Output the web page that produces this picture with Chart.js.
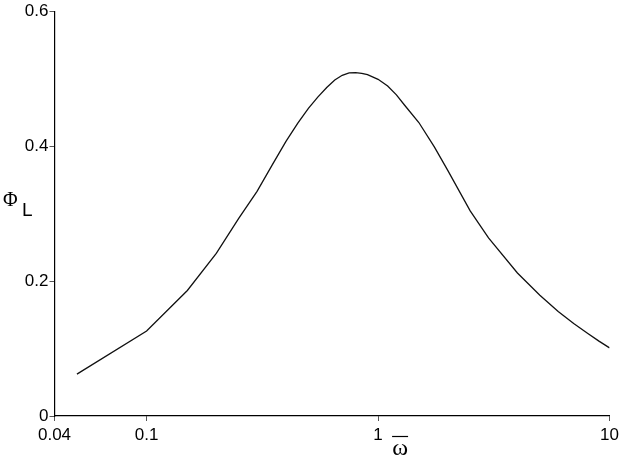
<!DOCTYPE html>
<html>
<head>
<meta charset="utf-8">
<script src="https://cdn.jsdelivr.net/npm/chart.js@4/dist/chart.umd.min.js"></script>
<style>
  html, body { margin: 0; padding: 0; background: #fff; }
  #wrap { width: 623px; height: 461px; }
</style>
</head>
<body>
<div id="wrap"><canvas id="myChart" width="623" height="461"></canvas></div>
<script>
// frequency (omega bar) and Phi_L
var omega = [0.05, 0.1, 0.15, 0.2, 0.25, 0.3, 0.35, 0.4, 0.45, 0.5, 0.55, 0.6, 0.65, 0.7, 0.75, 0.8, 0.85, 0.9, 1,
             1.1, 1.2, 1.3, 1.5, 1.75, 2, 2.5, 3, 4, 5, 6, 7, 8, 9, 10];
var phiL = [0.062, 0.126, 0.186, 0.241, 0.293, 0.333, 0.373, 0.407, 0.434, 0.456, 0.473, 0.487, 0.498, 0.505, 0.5085, 0.509, 0.508, 0.506, 0.499,
            0.489, 0.476, 0.461, 0.435, 0.399, 0.364, 0.304, 0.264, 0.212, 0.179, 0.155, 0.137, 0.123, 0.111, 0.101];
var xTicks = [0.04, 0.1, 1, 10];
var yTicks = [0, 0.2, 0.4, 0.6];

var tickFont = { family: "'Liberation Sans', Arial, sans-serif", size: 17 };

// axis symbols drawn next to the axes
var axisSymbols = {
    id: 'axisSymbols',
    afterDraw: function(chart) {
        var ctx = chart.ctx;
        var xs = chart.scales.x;
        ctx.save();
        ctx.fillStyle = '#000';
        ctx.textBaseline = 'alphabetic';
        ctx.textAlign = 'left';
        ctx.font = "20px 'Liberation Serif', 'DejaVu Serif', serif";
        ctx.fillText('\u03A6', 3, 206);
        ctx.font = "19px 'Liberation Sans', Arial, sans-serif";
        ctx.fillText('L', 22, 216);
        // omega with bar
        var cx = xs.getPixelForValue(1) + 22;
        ctx.font = "24px 'Liberation Serif', 'DejaVu Serif', serif";
        ctx.textAlign = 'center';
        ctx.fillText('\u03C9', cx, 455);
        ctx.strokeStyle = '#000';
        ctx.lineWidth = 1.2;
        ctx.beginPath();
        ctx.moveTo(cx - 8, 436.5);
        ctx.lineTo(cx + 8, 436.5);
        ctx.stroke();
        ctx.restore();
    }
};

var data = omega.map(function(w, i) { return { x: w, y: phiL[i] }; });

var chart = new Chart(document.getElementById('myChart').getContext('2d'), {
    type: 'line',
    data: {
        datasets: [{
            data: data,
            borderColor: '#111',
            borderWidth: 1.3,
            pointRadius: 0,
            tension: 0,
            fill: false
        }]
    },
    options: {
        responsive: false,
        animation: false,
        layout: { padding: { top: 11, right: 12, left: 0, bottom: 0 } },
        plugins: { legend: { display: false }, tooltip: { enabled: false } },
        scales: {
            x: {
                type: 'logarithmic',
                min: 0.04,
                max: 10,
                afterBuildTicks: function(scale) {
                    scale.ticks = xTicks.map(function(v) { return { value: v }; });
                },
                afterFit: function(scale) { scale.height = 45; },
                ticks: {
                    autoSkip: false,
                    maxRotation: 0,
                    color: '#000',
                    font: tickFont,
                    padding: 4,
                    callback: function(v) { return String(v); }
                },
                grid: { display: true, drawOnChartArea: false, drawTicks: true, tickLength: 5, color: '#555' },
                border: { display: true, color: '#000', width: 1.2 }
            },
            y: {
                min: 0,
                max: 0.6,
                afterBuildTicks: function(scale) {
                    scale.ticks = yTicks.map(function(v) { return { value: v }; });
                },
                afterFit: function(scale) { scale.width = 54.5; },
                ticks: {
                    color: '#000',
                    font: tickFont,
                    padding: 1,
                    callback: function(v) { return String(v); }
                },
                grid: { display: true, drawOnChartArea: false, drawTicks: true, tickLength: 5, color: '#555' },
                border: { display: true, color: '#000', width: 1.2 }
            }
        }
    },
    plugins: [axisSymbols]
});
</script>
</body>
</html>
